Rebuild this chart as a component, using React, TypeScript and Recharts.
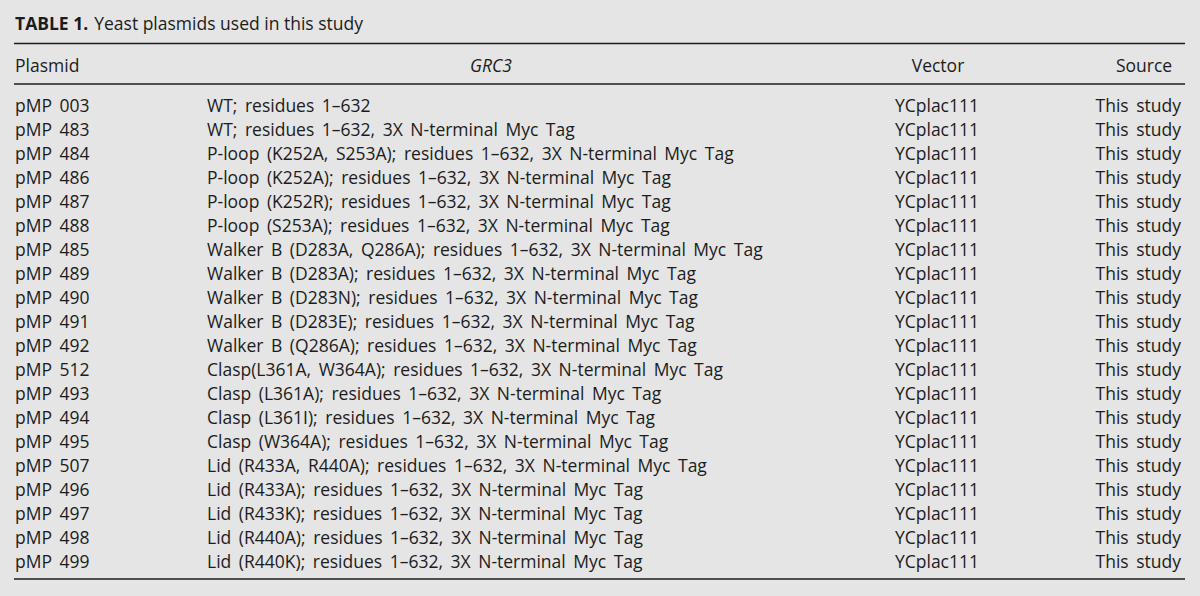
import React from 'react';
import { ScatterChart, Scatter, XAxis, YAxis, Customized } from 'recharts';

const plasmids = [
  'pMP 003', 'pMP 483', 'pMP 484', 'pMP 486', 'pMP 487', 'pMP 488', 'pMP 485',
  'pMP 489', 'pMP 490', 'pMP 491', 'pMP 492', 'pMP 512', 'pMP 493', 'pMP 494',
  'pMP 495', 'pMP 507', 'pMP 496', 'pMP 497', 'pMP 498', 'pMP 499'
];

const grc3 = [
  'WT; residues 1–632',
  'WT; residues 1–632, 3X N-terminal Myc Tag',
  'P-loop (K252A, S253A); residues 1–632, 3X N-terminal Myc Tag',
  'P-loop (K252A); residues 1–632, 3X N-terminal Myc Tag',
  'P-loop (K252R); residues 1–632, 3X N-terminal Myc Tag',
  'P-loop (S253A); residues 1–632, 3X N-terminal Myc Tag',
  'Walker B (D283A, Q286A); residues 1–632, 3X N-terminal Myc Tag',
  'Walker B (D283A); residues 1–632, 3X N-terminal Myc Tag',
  'Walker B (D283N); residues 1–632, 3X N-terminal Myc Tag',
  'Walker B (D283E); residues 1–632, 3X N-terminal Myc Tag',
  'Walker B (Q286A); residues 1–632, 3X N-terminal Myc Tag',
  'Clasp(L361A, W364A); residues 1–632, 3X N-terminal Myc Tag',
  'Clasp (L361A); residues 1–632, 3X N-terminal Myc Tag',
  'Clasp (L361I); residues 1–632, 3X N-terminal Myc Tag',
  'Clasp (W364A); residues 1–632, 3X N-terminal Myc Tag',
  'Lid (R433A, R440A); residues 1–632, 3X N-terminal Myc Tag',
  'Lid (R433A); residues 1–632, 3X N-terminal Myc Tag',
  'Lid (R433K); residues 1–632, 3X N-terminal Myc Tag',
  'Lid (R440A); residues 1–632, 3X N-terminal Myc Tag',
  'Lid (R440K); residues 1–632, 3X N-terminal Myc Tag'
];

const vectors = Array(20).fill('YCplac111');
const sources = Array(20).fill('This study');

const headers = ['Plasmid', 'GRC3', 'Vector', 'Source'];
const titleBold = 'TABLE 1.';
const titleText = 'Yeast plasmids used in this study';

const FONT = '"Open Sans", sans-serif';
const INK = '#1c1c1c';
const BG = '#e5e5e5';
const SIZE = 17.5;
const WORD_GAP = 3;

// column anchors (layout only)
const COLS = [
  { x: 15, anchor: 'start' as const, values: plasmids },
  { x: 207, anchor: 'start' as const, values: grc3 },
  { x: 937, anchor: 'middle' as const, values: vectors },
  { x: 1181, anchor: 'end' as const, values: sources }
];

const cellShape = (anchor: 'start' | 'middle' | 'end') => (props: any) => (
  <text
    x={props.cx}
    y={props.cy}
    dy="0.35em"
    textAnchor={anchor}
    fontFamily={FONT}
    fontSize={SIZE}
    fill={INK}
    style={{ wordSpacing: WORD_GAP }}
  >
    {props.payload.text}
  </text>
);

const Frame = () => (
  <g fontFamily={FONT} fill={INK}>
    <text x={15} y={30} fontSize={SIZE}>
      <tspan fontWeight="bold">{titleBold}</tspan>
      <tspan dx={6}>{titleText}</tspan>
    </text>
    <line x1={14} x2={1185} y1={43.5} y2={43.5} stroke={INK} strokeWidth={1.6} />
    <text x={15} y={72} fontSize={SIZE}>{headers[0]}</text>
    <text x={491} y={72} fontSize={SIZE} textAnchor="middle" fontStyle="italic">{headers[1]}</text>
    <text x={938} y={72} fontSize={SIZE} textAnchor="middle">{headers[2]}</text>
    <text x={1144} y={72} fontSize={SIZE} textAnchor="middle">{headers[3]}</text>
    <line x1={14} x2={1185} y1={84} y2={84} stroke={INK} strokeWidth={1.6} />
    <line x1={14} x2={1185} y1={579} y2={579} stroke={INK} strokeWidth={1.6} />
  </g>
);

export default function App() {
  return (
    <div style={{ position: 'absolute', left: 0, top: 0, width: 1200, height: 596, background: BG }}>
      <ScatterChart width={1200} height={596} margin={{ top: 94, right: 0, bottom: 22, left: 0 }}>
        <XAxis type="number" dataKey="x" domain={[0, 1200]} hide />
        <YAxis type="category" dataKey="row" hide reversed allowDuplicatedCategory={false} width={0} />
        {COLS.map((col, c) => (
          <Scatter
            key={c}
            data={col.values.map((text, i) => ({ x: col.x, row: plasmids[i], text }))}
            shape={cellShape(col.anchor)}
            isAnimationActive={false}
          />
        ))}
        <Customized component={Frame} />
      </ScatterChart>
    </div>
  );
}
